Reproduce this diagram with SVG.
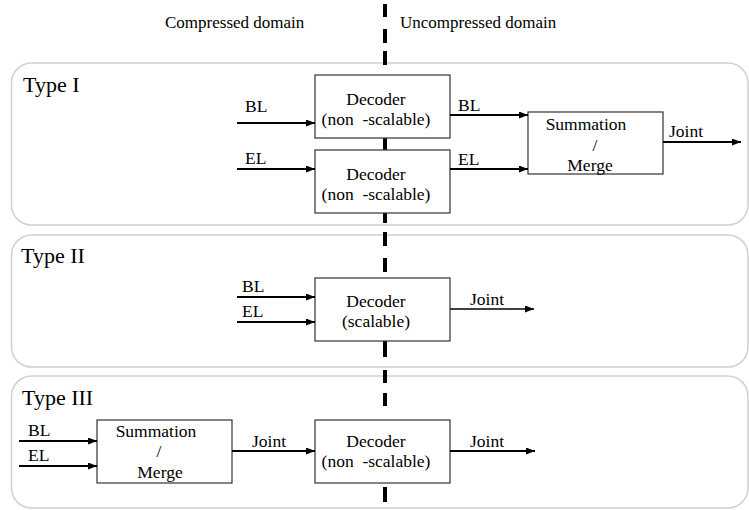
<svg xmlns="http://www.w3.org/2000/svg" width="749" height="510" viewBox="0 0 749 510" font-family="'Liberation Serif', 'Times New Roman', Times, 'DejaVu Serif', serif">
  <style>
    .panel { fill: none; stroke: #d0d0d0; stroke-width: 1.5; }
    .box { fill: #ffffff; stroke: #333333; stroke-width: 1.2; }
    .wire { fill: none; stroke: #000000; stroke-width: 2; marker-end: url(#arrow); }
    .thin { stroke-width: 1.4; }
    .divider { fill: none; stroke: #000000; stroke-width: 4; }
    .hdr { font-size: 17px; }
    .type { font-size: 22px; }
    .lbl { font-size: 17.5px; }
    .mid { text-anchor: middle; }
  </style>
  <defs>
    <marker id="arrow" markerUnits="userSpaceOnUse" markerWidth="10" markerHeight="8" refX="9" refY="3.5" orient="auto">
      <path d="M0,0 L9,3.5 L0,7 z" fill="#000000"/>
    </marker>
  </defs>

  <rect width="749" height="510" fill="#ffffff"/>

  <!-- domain headings -->
  <text class="hdr" x="165" y="28">Compressed domain</text>
  <text class="hdr" x="400" y="28">Uncompressed domain</text>

  <!-- panels -->
  <g id="panel-type1">
    <rect class="panel" x="11.5" y="63" width="736.5" height="162" rx="20"/>
    <text class="type" x="23" y="92">Type I</text>
  </g>
  <g id="panel-type2">
    <rect class="panel" x="11.5" y="235" width="736.5" height="132" rx="20"/>
    <text class="type" x="21" y="263">Type II</text>
  </g>
  <g id="panel-type3">
    <rect class="panel" x="11.5" y="376" width="736.5" height="132" rx="20"/>
    <text class="type" x="22" y="405">Type III</text>
  </g>

  <!-- compressed / uncompressed boundary -->
  <path class="divider" d="M385,4 V17 M385,29 V43 M385,51 V65 M385,75 V213 M385,213 V223 M385,232 V246 M385,258 V272 M385,278 V343 M385,343 V357 M385,370 V383 M385,393 V406 M385,420 V483 M385,487 V502"/>

  <!-- Type I -->
  <g id="t1-dec-bl">
    <rect class="box" x="315" y="75" width="135" height="63"/>
    <text class="lbl mid" x="376" y="105">Decoder</text>
    <text class="lbl mid" x="376" y="125" xml:space="preserve">(non  -scalable)</text>
  </g>
  <g id="t1-dec-el">
    <rect class="box" x="315" y="150" width="135" height="63"/>
    <text class="lbl mid" x="376" y="180">Decoder</text>
    <text class="lbl mid" x="376" y="200" xml:space="preserve">(non  -scalable)</text>
  </g>
  <g id="t1-merge">
    <rect class="box" x="528" y="112" width="135" height="62"/>
    <text class="lbl mid" x="586" y="130">Summation</text>
    <text class="lbl mid" x="595" y="151">/</text>
    <text class="lbl mid" x="590" y="171">Merge</text>
  </g>

  <!-- Type II -->
  <g id="t2-dec">
    <rect class="box" x="315" y="278" width="135" height="63"/>
    <text class="lbl mid" x="376" y="307">Decoder</text>
    <text class="lbl mid" x="376" y="327">(scalable)</text>
  </g>

  <!-- Type III -->
  <g id="t3-merge">
    <rect class="box" x="97" y="420" width="135" height="63"/>
    <text class="lbl mid" x="156" y="437">Summation</text>
    <text class="lbl mid" x="159" y="457">/</text>
    <text class="lbl mid" x="160" y="478">Merge</text>
  </g>
  <g id="t3-dec">
    <rect class="box" x="315" y="420" width="135" height="63"/>
    <text class="lbl mid" x="376" y="447">Decoder</text>
    <text class="lbl mid" x="376" y="467" xml:space="preserve">(non  -scalable)</text>
  </g>

  <!-- connectors -->
  <g id="connectors">
    <line class="wire" x1="237" y1="123" x2="315" y2="123"/>
    <line class="wire" x1="237" y1="169" x2="315" y2="169"/>
    <line class="wire" x1="450" y1="115" x2="528" y2="115"/>
    <line class="wire" x1="450" y1="169" x2="528" y2="169"/>
    <line class="wire" x1="663" y1="142" x2="741" y2="142"/>

    <line class="wire" x1="237" y1="297" x2="315" y2="297"/>
    <line class="wire" x1="237" y1="322" x2="315" y2="322"/>
    <line class="wire thin" x1="450" y1="309" x2="534" y2="309"/>

    <line class="wire" x1="19" y1="441" x2="97" y2="441"/>
    <line class="wire" x1="19" y1="466" x2="97" y2="466"/>
    <line class="wire" x1="232" y1="451" x2="315" y2="451"/>
    <line class="wire" x1="450" y1="451" x2="535" y2="451"/>

    <text class="lbl" x="245" y="112">BL</text>
    <text class="lbl" x="245" y="164">EL</text>
    <text class="lbl" x="458" y="111">BL</text>
    <text class="lbl" x="458" y="165">EL</text>
    <text class="lbl" x="669" y="137">Joint</text>

    <text class="lbl" x="242" y="292">BL</text>
    <text class="lbl" x="242" y="317">EL</text>
    <text class="lbl" x="470" y="305">Joint</text>

    <text class="lbl" x="28" y="436">BL</text>
    <text class="lbl" x="28" y="461">EL</text>
    <text class="lbl" x="252" y="447">Joint</text>
    <text class="lbl" x="470" y="447">Joint</text>
  </g>
</svg>
